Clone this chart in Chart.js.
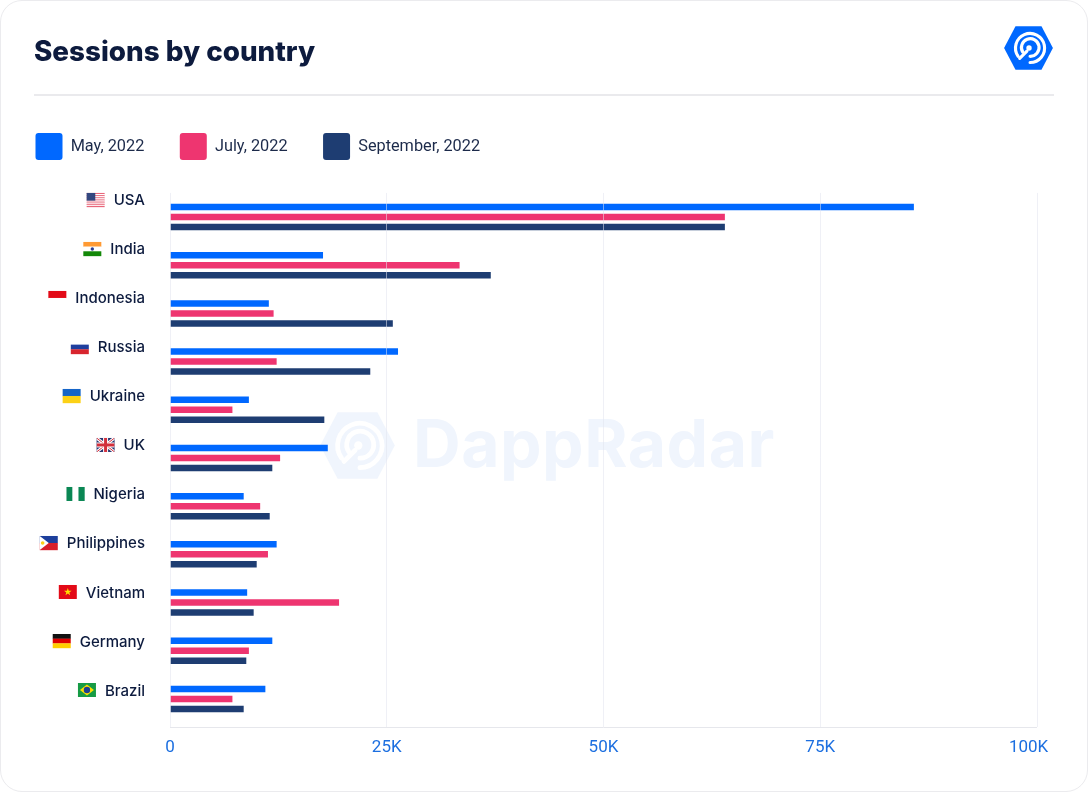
<!DOCTYPE html>
<html><head><meta charset="utf-8">
<style>
html,body{margin:0;padding:0;background:#fff;}
#card{position:absolute;left:0;top:0;width:1086px;height:790px;border:1px solid #ebebee;border-radius:22px;overflow:hidden;background:#fff;}
#wrap{position:absolute;left:0;top:0;width:1088px;height:792px;}
canvas{position:absolute;left:0;top:0;}
#rule{position:absolute;left:34px;top:94px;width:1020px;height:2px;background:#eaeaed;}
svg{position:absolute;}
#wm{position:absolute;left:413px;top:403px;font:700 66px/80px "Inter",sans-serif;color:#f0f5fd;letter-spacing:.5px;white-space:nowrap;}
</style>
<script src="https://cdn.jsdelivr.net/npm/chart.js@4/dist/chart.umd.min.js"></script>
</head><body>
<div id="wrap">
<div id="card"></div>
<div id="rule"></div>
<svg style="left:317px;top:408px" width="81" height="75" viewBox="0 0 51 46"><use href="#hex" fill="#f0f5fd" color="#fff"/></svg>
<div id="wm">DappRadar</div>
<canvas id="c" width="1088" height="792"></canvas>
<svg style="left:1002px;top:24px" width="53" height="48" viewBox="0 0 51 46">
<defs><g id="hex">
<path d="M13 2H38L49 23L38 44H13L2 23Z" fill="inherit" stroke-linejoin="round"/>
<g fill="none" stroke="currentColor" stroke-width="3" stroke-linecap="round">
<path d="M15.5 31A14 14 0 1 1 27 37"/>
<path d="M20 27A8.500 8.500 0 1 1 27 31"/>
<path d="M17 33L24 26"/>
</g>
<circle cx="26" cy="23" r="2.600" fill="currentColor"/>
</g></defs>
<use href="#hex" fill="#0068ff" color="#fff"/>
</svg>
</div>
<script>
const categories=["USA","India","Indonesia","Russia","Ukraine","UK","Nigeria","Philippines","Vietnam","Germany","Brazil"];
const seriesNames=["May, 2022","July, 2022","September, 2022"];
const may2022=[85800,17650,11400,26300,9100,18200,8500,12300,8900,11800,11000];
const july2022=[64000,33400,11950,12300,7200,12700,10400,11300,19500,9100,7200];
const sep2022=[64000,37000,25700,23100,17800,11800,11500,10000,9650,8800,8500];
const colors=["#0068ff","#ee3570","#1e3d72"];
const xTicks=[0,25000,50000,75000,100000];

function bands(ctx,x,y,w,h,cols){const s=h/cols.length;cols.forEach((c,i)=>{ctx.fillStyle=c;ctx.fillRect(x,y+i*s,w,s+.2);});}
function vbands(ctx,x,y,w,h,cols){const s=w/cols.length;cols.forEach((c,i)=>{ctx.fillStyle=c;ctx.fillRect(x+i*s,y,s+.2,h);});}
const flags={
USA(c,x,y,w,h){const rows=[];for(let i=0;i<7;i++){rows.push("#e8667a","#fff");}bands(c,x,y,w,h,rows.slice(0,13));c.fillStyle="#33477f";c.fillRect(x,y,w*.48,h*.55);},
India(c,x,y,w,h){bands(c,x,y,w,h,["#ff9a33","#fff","#138808"]);c.fillStyle="#2a3d8f";c.beginPath();c.arc(x+w/2,y+h/2,1.700,0,7);c.fill();},
Indonesia(c,x,y,w,h){bands(c,x,y,w,h,["#e30a17","#fff"]);},
Russia(c,x,y,w,h){bands(c,x,y,w,h,["#fff","#1f3f9e","#d8252e"]);},
Ukraine(c,x,y,w,h){bands(c,x,y,w,h,["#1565c8","#fcd116"]);},
UK(c,x,y,w,h){c.save();c.fillStyle="#27336f";c.fillRect(x,y,w,h);c.beginPath();c.rect(x,y,w,h);c.clip();c.strokeStyle="#fff";c.lineWidth=3;c.beginPath();c.moveTo(x,y);c.lineTo(x+w,y+h);c.moveTo(x+w,y);c.lineTo(x,y+h);c.stroke();c.strokeStyle="#d22f3c";c.lineWidth=1;c.stroke();c.fillStyle="#fff";c.fillRect(x+w/2-2.500,y,5,h);c.fillRect(x,y+h/2-2.500,w,5);c.fillStyle="#d22f3c";c.fillRect(x+w/2-1.500,y,3,h);c.fillRect(x,y+h/2-1.500,w,3);c.restore();},
Nigeria(c,x,y,w,h){vbands(c,x,y,w,h,["#0a8754","#fff","#0a8754"]);},
Philippines(c,x,y,w,h){bands(c,x,y,w,h,["#1d3f9c","#d81f2a"]);c.fillStyle="#fff";c.beginPath();c.moveTo(x,y);c.lineTo(x+w*.5,y+h/2);c.lineTo(x,y+h);c.closePath();c.fill();c.fillStyle="#fcd116";c.beginPath();c.arc(x+w*.16,y+h/2,1.800,0,7);c.fill();},
Vietnam(c,x,y,w,h){c.fillStyle="#e30a17";c.fillRect(x,y,w,h);c.fillStyle="#ffdd00";c.beginPath();for(let i=0;i<10;i++){const r=i%2?1.600:4,a=-Math.PI/2+i*Math.PI/5;c.lineTo(x+w/2+r*Math.cos(a),y+h/2+r*Math.sin(a));}c.closePath();c.fill();},
Germany(c,x,y,w,h){bands(c,x,y,w,h,["#111","#dd0000","#ffce00"]);},
Brazil(c,x,y,w,h){c.fillStyle="#169b45";c.fillRect(x,y,w,h);c.fillStyle="#fedf00";c.beginPath();c.moveTo(x+w/2,y+1.500);c.lineTo(x+w-2,y+h/2);c.lineTo(x+w/2,y+h-1.500);c.lineTo(x+2,y+h/2);c.closePath();c.fill();c.fillStyle="#1d3f8f";c.beginPath();c.arc(x+w/2,y+h/2,3.200,0,7);c.fill();}
};
const labelFont='500 15px "Inter",sans-serif';
const flagPlugin={id:"flagPlugin",
 beforeLayout(chart){const l=chart.legend;if(l&&!l._grown){l._grown=true;const f=l.fit.bind(l);l.fit=()=>{f();l.height+=23;};}},
 beforeDraw(chart){if(chart.legend)chart.legend.left=0;if(chart.titleBlock)chart.titleBlock.left=34;},
 afterDraw(chart){
 const c=chart.ctx,s=chart.scales.yL;c.save();c.font=labelFont;
 categories.forEach((name,i)=>{
  const py=s.getPixelForValue(i),tw=c.measureText(name).width,right=145-tw-9;
  c.save();flags[name](c,right-18,py-8,18,14);c.restore();
 });
 c.restore();
}};
const baseLine={id:"baseLine",afterDraw(chart){
 const c=chart.ctx,a=chart.chartArea;c.save();c.strokeStyle="#e6e7ec";c.lineWidth=1;
 c.beginPath();c.moveTo(a.left,a.bottom+4.5);c.lineTo(a.right,a.bottom+4.5);c.stroke();c.restore();
}};
new Chart(document.getElementById("c"),{
 type:"bar",
 data:{labels:categories,datasets:[
  {label:seriesNames[0],data:may2022,backgroundColor:colors[0]},
  {label:seriesNames[1],data:july2022,backgroundColor:colors[1]},
  {label:seriesNames[2],data:sep2022,backgroundColor:colors[2]}]},
 plugins:[flagPlugin,baseLine],
 options:{
  indexAxis:"y",responsive:false,animation:false,devicePixelRatio:1,
  categoryPercentage:.622,barPercentage:.65,
  layout:{padding:{left:1,right:51,top:0,bottom:0}},
  plugins:{
   tooltip:{enabled:false},
   title:{display:true,text:"Sessions by country",align:"start",color:"#0d1b3e",
    font:{family:"Inter",size:27.8,weight:"800"},padding:{top:35.5,bottom:28.6}},
   legend:{position:"top",align:"start",labels:{boxWidth:27,boxHeight:27,padding:35.5,useBorderRadius:true,borderRadius:3,color:"#1c2a4a",font:{family:"Roboto",size:16.3}}}
  },
  scales:{
   x:{type:"linear",position:"bottom",min:0,max:100000,afterBuildTicks(a){a.ticks=xTicks.map(v=>({value:v}));},
    afterFit(a){a.height=69;},
    grid:{z:1,color:"rgba(225,228,238,.55)",tickLength:4,drawTicks:true,tickColor:"#f0f1f6"},
    border:{display:false},
    ticks:{color:"#1c6fe0",padding:11,maxRotation:0,font:{family:"Roboto",size:17},callback:v=>v===0?"0":v===100000?"100K\u00a0\u00a0\u00a0\u00a0":(v/1000)+"K"}},
   y:{type:"category",display:false},
   yL:{type:"linear",position:"left",reverse:true,offset:false,min:-0.163,max:10.653,bounds:"data",
    afterBuildTicks(a){a.ticks=categories.map((n,i)=>({value:i}));},
    afterFit(a){a.width=169;},
    grid:{display:false,drawTicks:false,offset:false},border:{display:false},
    ticks:{stepSize:1,includeBounds:false,autoSkip:false,padding:25,color:"#0d1b3e",font:{family:"Inter",size:15,weight:"500"},callback:v=>categories[v]}}
  }
 }
});
</script>
</body></html>
